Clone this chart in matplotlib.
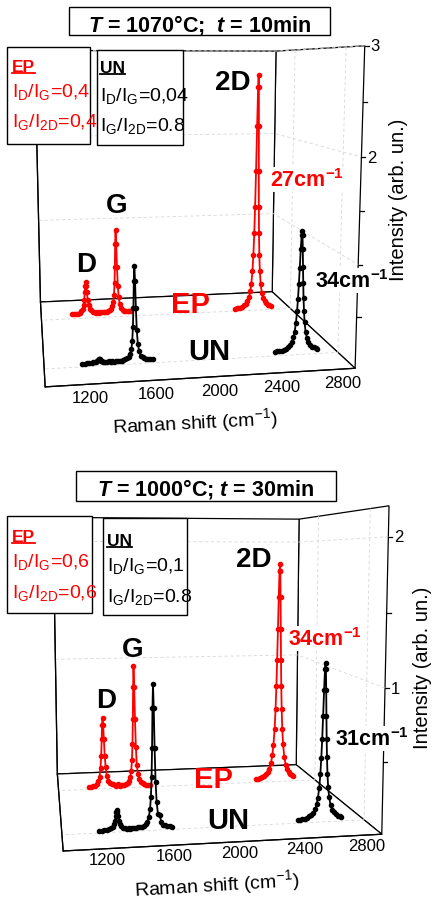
import numpy as np
import matplotlib
matplotlib.use('Agg')
import matplotlib.pyplot as plt
from matplotlib.patches import Rectangle
from matplotlib.lines import Line2D
from mpl_toolkits.mplot3d import proj3d

plt.rcParams['font.family'] = ['Liberation Sans', 'DejaVu Sans']
plt.rcParams['mathtext.fontset'] = 'custom'
plt.rcParams['mathtext.rm'] = 'Liberation Sans'
plt.rcParams['mathtext.bf'] = 'Liberation Sans:bold'
plt.rcParams['mathtext.it'] = 'Liberation Sans:italic:bold'

# Raman shift grids (cm-1) of the two measured windows
un_shift_lo = [1240, 1255, 1270, 1285, 1300, 1312, 1322, 1330, 1336, 1341,
               1345, 1349, 1353, 1357, 1362, 1368, 1376, 1386, 1398, 1410,
               1422, 1434, 1446, 1458, 1470, 1482, 1494, 1506, 1518, 1530,
               1540, 1550, 1558, 1564, 1569, 1573, 1577, 1581, 1585, 1589,
               1594, 1600, 1608, 1618, 1630, 1642, 1655, 1668, 1682, 1696]
un_shift_hi = [2520, 2535, 2550, 2565, 2580, 2595, 2610, 2622, 2634, 2644,
               2652, 2660, 2666, 2671, 2675, 2679, 2683, 2687, 2690, 2693,
               2697, 2701, 2705, 2709, 2714, 2720, 2728, 2738, 2750, 2762,
               2775, 2788, 2800, 2812]
ep_shift_lo = [1228, 1243, 1258, 1273, 1288, 1300, 1310, 1318, 1324, 1329,
               1333, 1337, 1341, 1345, 1350, 1356, 1364, 1374, 1386, 1398,
               1410, 1422, 1434, 1446, 1458, 1470, 1482, 1494, 1506, 1518,
               1528, 1538, 1546, 1552, 1557, 1561, 1565, 1569, 1573, 1577,
               1582, 1588, 1596, 1606, 1618, 1630, 1643, 1656, 1670, 1684]
ep_shift_hi = [2504, 2519, 2534, 2549, 2564, 2579, 2594, 2606, 2618, 2628,
               2636, 2644, 2650, 2655, 2659, 2663, 2667, 2671, 2674, 2677,
               2681, 2685, 2689, 2693, 2698, 2704, 2712, 2722, 2734, 2746,
               2759, 2772, 2784, 2796]

# T = 1070 C, t = 10 min
ep_lo_1070 = [0.058, 0.049, 0.058, 0.058, 0.068, 0.087, 0.107, 0.155, 0.213,
              0.30, 0.378, 0.417, 0.378, 0.30, 0.213, 0.155, 0.107, 0.087,
              0.068, 0.063, 0.058, 0.068, 0.058, 0.068, 0.058, 0.058, 0.058,
              0.063, 0.068, 0.078, 0.092, 0.122, 0.175, 0.257, 0.388, 0.582,
              0.844, 0.999, 0.844, 0.582, 0.359, 0.223, 0.146, 0.102, 0.08,
              0.068, 0.063, 0.058, 0.058, 0.053]
ep_hi_1070 = [0.03, 0.03, 0.034, 0.039, 0.049, 0.064, 0.084, 0.113, 0.158,
              0.227, 0.315, 0.463, 0.66, 0.916, 1.221, 1.635, 2.147, 2.591,
              2.719, 2.591, 2.147, 1.635, 1.221, 0.916, 0.66, 0.463, 0.315,
              0.207, 0.138, 0.099, 0.079, 0.059, 0.049, 0.039]
un_lo_1070 = [0.03, 0.03, 0.035, 0.03, 0.035, 0.04, 0.04, 0.045, 0.05, 0.06,
              0.065, 0.07, 0.065, 0.06, 0.05, 0.045, 0.04, 0.035, 0.035, 0.04,
              0.035, 0.04, 0.035, 0.04, 0.04, 0.04, 0.04, 0.045, 0.05, 0.06,
              0.07, 0.10, 0.15, 0.23, 0.365, 0.55, 0.81, 0.96, 0.81, 0.55,
              0.33, 0.20, 0.125, 0.08, 0.06, 0.05, 0.045, 0.04, 0.035, 0.035]
un_hi_1070 = [0.04, 0.045, 0.045, 0.05, 0.055, 0.065, 0.08, 0.10, 0.131,
              0.178, 0.231, 0.327, 0.44, 0.57, 0.72, 0.88, 1.06, 1.20, 1.24,
              1.20, 1.06, 0.88, 0.72, 0.57, 0.44, 0.327, 0.231, 0.168, 0.12,
              0.09, 0.075, 0.065, 0.055, 0.05]

# T = 1000 C, t = 30 min
ep_lo_1000 = [0.019, 0.019, 0.024, 0.028, 0.042, 0.065, 0.102, 0.176, 0.272,
              0.406, 0.525, 0.58, 0.525, 0.406, 0.272, 0.176, 0.102, 0.065,
              0.042, 0.033, 0.038, 0.028, 0.019, 0.033, 0.019, 0.024, 0.028,
              0.024, 0.033, 0.042, 0.056, 0.088, 0.139, 0.226, 0.364, 0.562,
              0.829, 0.994, 0.829, 0.562, 0.332, 0.189, 0.111, 0.065, 0.042,
              0.033, 0.024, 0.019, 0.019, 0.015]
ep_hi_1000 = [0.028, 0.028, 0.038, 0.042, 0.051, 0.065, 0.084, 0.111, 0.157,
              0.229, 0.313, 0.446, 0.612, 0.81, 1.024, 1.28, 1.545, 1.755,
              1.81, 1.755, 1.545, 1.28, 1.024, 0.81, 0.612, 0.446, 0.313,
              0.209, 0.139, 0.102, 0.074, 0.061, 0.047, 0.038]
un_lo_1000 = [0.015, 0.015, 0.02, 0.02, 0.025, 0.03, 0.04, 0.055, 0.08, 0.11,
              0.14, 0.155, 0.14, 0.11, 0.08, 0.055, 0.04, 0.03, 0.025, 0.02,
              0.025, 0.02, 0.025, 0.02, 0.025, 0.025, 0.025, 0.03, 0.035, 0.045,
              0.06, 0.095, 0.15, 0.235, 0.375, 0.575, 0.85, 1.015, 0.85, 0.575,
              0.34, 0.2, 0.115, 0.105, 0.055, 0.035, 0.03, 0.025, 0.025, 0.02]
un_hi_1000 = [0.025, 0.025, 0.03, 0.03, 0.035, 0.045, 0.055, 0.07, 0.095, 0.13,
              0.175, 0.25, 0.345, 0.465, 0.595, 0.76, 0.945, 1.095, 1.135,
              1.095, 0.945, 0.76, 0.595, 0.465, 0.345, 0.25, 0.175, 0.12,
              0.085, 0.065, 0.05, 0.04, 0.035, 0.03]

x_ticks = [1200, 1600, 2000, 2400, 2800]
sample_depth = {'UN': 1, 'EP': 2}
YLIM = (0.71, 2.48)

W, H = 433, 904
fig = plt.figure(figsize=(W / 100, H / 100), dpi=100)


def fxy(x, y):
    return x / W, 1 - y / H


def put(x, y, s, **kw):
    fig.text(*fxy(x, y), s, **kw)


def box(x0, y0, x1, y1):
    fig.add_artist(Rectangle(fxy(x0, y1), (x1 - x0) / W, (y1 - y0) / H,
                             transform=fig.transFigure, fc='white',
                             ec='black', lw=1.0, zorder=5))


def seg(x0, y0, x1, y1, color='black', lw=1.0, zorder=4):
    (a, b), (c, d) = fxy(x0, y0), fxy(x1, y1)
    fig.add_artist(Line2D([a, c], [b, d], transform=fig.transFigure,
                          color=color, lw=lw, zorder=zorder))


def header(x, y, s, width, color):
    put(x, y, s, color=color, fontsize=12.5, fontweight='bold',
        ha='left', va='baseline', zorder=6)
    seg(x, y + 2, x + width, y + 2, color=color, lw=1.3, zorder=6)


def to_px(ax, x, y, z):
    xs, ys, _ = proj3d.proj_transform(np.atleast_1d(np.asarray(x, float)),
                                      np.atleast_1d(np.asarray(y, float)),
                                      np.atleast_1d(np.asarray(z, float)),
                                      ax.get_proj())
    pix = ax.transData.transform(np.column_stack([xs, ys]))
    return pix[:, 0], H - pix[:, 1]


def panel(view, side, centre, xlim, zmax, zticks, zlabels, zminor, xoff,
          ep_lo, ep_hi, un_lo, un_hi):
    elev, azim, focal, zoom, ay, az = view
    cx, cy = centre
    ax = fig.add_axes([(cx - side / 2) / W, 1 - (cy + side / 2) / H,
                       side / W, side / H], projection='3d')
    ax.set_proj_type('persp', focal_length=focal)
    ax.view_init(elev=elev, azim=azim)
    ax.set_box_aspect((1, ay, az), zoom=zoom)

    for name, col, parts in (
            ('EP', 'red', ((ep_shift_lo, ep_lo), (ep_shift_hi, ep_hi))),
            ('UN', 'black', ((un_shift_lo, un_lo), (un_shift_hi, un_hi)))):
        d = sample_depth[name]
        for xs, zs in parts:
            ax.plot(xs, [d] * len(xs), zs, '-o', color=col, lw=1.3, ms=3.0)

    ax.set_xlim(*xlim)
    ax.set_ylim(*YLIM)
    ax.set_zlim(0, zmax)
    ax.set_xticks(x_ticks)
    ax.set_xticklabels([])
    ax.set_yticks([1, 2])
    ax.set_yticklabels([])
    ax.set_zticks(zticks)
    ax.set_zticklabels([])

    for axis in (ax.xaxis, ax.yaxis, ax.zaxis):
        axis.set_pane_color((1, 1, 1, 1))
        axis.pane.set_closed(True)
        axis.pane.set_edgecolor('black')
        axis.pane.set_linewidth(0.9)
        axis.line.set_color('black')
        axis.line.set_linewidth(0.9)
        axis._axinfo['grid'].update(color='#d8d8d8', linewidth=0.6,
                                    linestyle=(0, (4, 3)))
        axis._axinfo['tick']['inward_factor'] = 0
        axis._axinfo['tick']['outward_factor'] = 0
    ax.xaxis._axinfo['grid'].update(color=(1, 1, 1, 0))

    # tick labels sit where the library projects the front edges
    ax.apply_aspect()
    px, py = to_px(ax, x_ticks, [YLIM[0]] * len(x_ticks), [0] * len(x_ticks))
    for t, a, b in zip(x_ticks, px, py):
        put(a + xoff[0], b + xoff[1], str(t), fontsize=12,
            ha='center', va='center', zorder=3)
    px, py = to_px(ax, [xlim[1]] * len(zminor), [YLIM[0]] * len(zminor),
                   zminor)
    for t, a, b in zip(zminor, px, py):
        seg(a, b, a + 4, b, lw=0.9, zorder=3)
        if t in zlabels:
            put(a + 6, b, '%d' % t, fontsize=12, ha='left', va='center',
                zorder=3)
    return ax


panel((8.236, -99.658, 0.3867, 1.1131, 0.9941, 1.0377), 420,
      (172.75, 199.70), (998, 2958), 3, [1, 2, 3], [2, 3],
      [0.5, 1, 1.5, 2, 2.5, 3], (11.5, 13),
      ep_lo_1070, ep_hi_1070, un_lo_1070, un_hi_1070)
panel((6.260, -99.693, 0.3948, 1.1050, 1.0027, 1.0292), 433,
      (193.91, 665.69), (1008, 2968), 2.2, [1, 2], [1, 2],
      [0.5, 1, 1.5, 2], (11, 10),
      ep_lo_1000, ep_hi_1000, un_lo_1000, un_hi_1000)

big = dict(fontsize=20, fontweight='bold', ha='center', va='baseline')
cm = dict(fontsize=15.5, fontweight='bold', ha='left', va='baseline',
          zorder=7, bbox=dict(fc='white', ec='none', pad=0.5))
ratio = dict(fontsize=14, ha='left', va='baseline', zorder=6)
ylab = dict(fontsize=14.5, rotation=90, ha='center', va='center', zorder=8)

# top panel annotations
box(69, 8, 330, 36)
put(200, 31.5, r'$\mathit{T}$ = 1070°C;  $\mathit{t}$ = 10min', fontsize=15.5,
    fontweight='bold', ha='center', va='baseline', zorder=6)
box(7, 48, 90, 145)
box(97, 51, 183, 146)
header(12, 72, 'EP', 23, 'red')
put(12, 97, r'I$_{\rm D}$/I$_{\rm G}$=0,4', color='red', **ratio)
put(12, 127, r'I$_{\rm G}$/I$_{\rm 2D}$=0,4', color='red', **ratio)
header(100, 73, 'UN', 25, 'black')
put(100, 101.5, r'I$_{\rm D}$/I$_{\rm G}$=0,04', **ratio)
put(100, 130.5, r'I$_{\rm G}$/I$_{\rm 2D}$=0.8', **ratio)
put(233, 90, '2D', **big)
put(117, 213, 'G', **big)
put(86, 272, 'D', **big)
put(270, 187, r'27cm$^{\mathbf{-1}}$', color='red', **cm)
put(315, 288, r'34cm$^{\mathbf{-1}}$', color='black', **cm)
put(190, 313, 'EP', color='red', fontsize=21, fontweight='bold',
    ha='center', va='baseline')
put(209, 360, 'UN', fontsize=21, fontweight='bold', ha='center', va='baseline')
put(195, 423, r'Raman shift (cm$^{-1}$)', fontsize=14, rotation=3,
    ha='center', va='center')
put(398, 200, 'Intensity (arb. un.)', **ylab)

# bottom panel annotations
box(76, 472, 336, 502)
put(206, 496, r'$\mathit{T}$ = 1000°C; $\mathit{t}$ = 30min', fontsize=15.5,
    fontweight='bold', ha='center', va='baseline', zorder=6)
box(7, 517, 92, 614)
box(103, 519, 187, 616)
header(12, 542, 'EP', 23, 'red')
put(12, 567, r'I$_{\rm D}$/I$_{\rm G}$=0,6', color='red', **ratio)
put(12, 598, r'I$_{\rm G}$/I$_{\rm 2D}$=0,6', color='red', **ratio)
header(107, 546, 'UN', 25, 'black')
put(107, 571, r'I$_{\rm D}$/I$_{\rm G}$=0,1', **ratio)
put(107, 602, r'I$_{\rm G}$/I$_{\rm 2D}$=0.8', **ratio)
put(254, 567, '2D', **big)
put(133, 657, 'G', **big)
put(106, 708, 'D', **big)
put(288, 646, r'34cm$^{\mathbf{-1}}$', color='red', **cm)
put(335, 746, r'31cm$^{\mathbf{-1}}$', color='black', **cm)
put(213, 788, 'EP', color='red', fontsize=21, fontweight='bold',
    ha='center', va='baseline')
put(228, 829, 'UN', fontsize=21, fontweight='bold', ha='center', va='baseline')
put(217, 885, r'Raman shift (cm$^{-1}$)', fontsize=14, rotation=3.5,
    ha='center', va='center')
put(423, 668, 'Intensity (arb. un.)', **ylab)

fig.savefig('out.png', dpi=100)
